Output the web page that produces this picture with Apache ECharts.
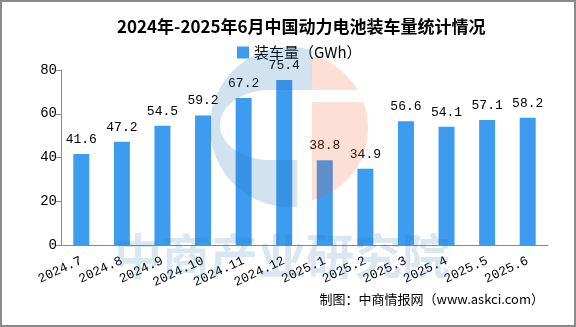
<!DOCTYPE html>
<html><head><meta charset="utf-8">
<script src="https://cdn.jsdelivr.net/npm/echarts@6/dist/echarts.min.js"></script>
<style>html,body{margin:0;padding:0;background:#fff}#c{width:576px;height:327px;position:absolute;left:0;top:0}#f{position:absolute;left:0;top:0;width:576px;height:327px;box-sizing:border-box;border:2px solid #8a8a8a;pointer-events:none}</style>
</head><body><div id="c"></div><div id="f"></div>
<script>
const categories = ['2024.7','2024.8','2024.9','2024.10','2024.11','2024.12','2025.1','2025.2','2025.3','2025.4','2025.5','2025.6'];
const values = [41.6,47.2,54.5,59.2,67.2,75.4,38.8,34.9,56.6,54.1,57.1,58.2];
const seriesName = '装车量（GWh）';
const titleText = '2024年-2025年6月中国动力电池装车量统计情况';
const sourceText = '制图：中商情报网（www.askci.com）';
const watermarkText = '中商产业研究院';

function arc(cx, cy, rx, ry, a0, a1, n) {
  const pts = [];
  for (let i = 0; i <= n; i++) {
    const a = (a0 + (a1 - a0) * i / n) * Math.PI / 180;
    pts.push([cx + rx * Math.cos(a), cy + ry * Math.sin(a)]);
  }
  return pts;
}
const blueC = [].concat(arc(290,127,80,80,-74,-275,80), [[297,160],[270,160]], arc(270,125,50,35,90,270,40), [[312,90]]);
const peachTop = [].concat(arc(293,128,75,75,-75.4,-30.4,30), [[312,90]]);
const peachBot = [].concat([[312,102]], arc(293,128,75,75,-20.3,75.4,40));

const chart = echarts.init(document.getElementById('c'));
const mono = '"Liberation Mono", "Noto Sans CJK SC", monospace';
const wmBlue = 'rgba(30,110,170,0.2)';
const wmText = 'rgba(30,110,170,0.17)';
const wmPeach = 'rgba(239,92,39,0.19)';
chart.setOption({
  animation: false,
  title: {
    text: titleText, left: 112, top: 13,
    textStyle: {fontFamily: '"Noto Sans CJK SC", sans-serif', fontSize: 17, fontWeight: 'bold', color: '#000'}
  },
  legend: {
    data: [seriesName], left: 232, top: 40, itemWidth: 12, itemHeight: 12, itemGap: 4,
    icon: 'rect',
    textStyle: {fontFamily: '"Noto Sans CJK SC", sans-serif', fontSize: 15, color: '#000'}
  },
  grid: {left: 61, right: 28, top: 70, bottom: 82},
  xAxis: {
    type: 'category', data: categories,
    axisLine: {lineStyle: {color: '#888', width: 1}},
    axisTick: {length: 5, lineStyle: {color: '#888'}},
    axisLabel: {rotate: 25, margin: 15, fontFamily: mono, fontSize: 13, color: '#000', interval: 0}
  },
  yAxis: {
    type: 'value', min: 0, max: 80, interval: 20,
    axisLine: {show: true, lineStyle: {color: '#888', width: 1}},
    axisTick: {show: true, length: 5, lineStyle: {color: '#888'}},
    splitLine: {show: false},
    axisLabel: {margin: 4, fontFamily: mono, fontSize: 14, color: '#000'}
  },
  series: [{
    name: seriesName, type: 'bar', data: values, barWidth: 16,
    itemStyle: {color: '#3d9cf0'},
    label: {show: true, position: 'top', distance: 8, fontFamily: mono, fontSize: 13, color: '#000'}
  }],
  graphic: [
    {type: 'polygon', z: 100, silent: true, shape: {points: blueC}, style: {fill: wmBlue}},
    {type: 'polygon', z: 100, silent: true, shape: {points: peachTop}, style: {fill: wmPeach}},
    {type: 'polygon', z: 100, silent: true, shape: {points: peachBot}, style: {fill: wmPeach}},
    {type: 'text', z: 100, silent: true, left: 114, top: 232,
     style: {text: watermarkText, fill: wmText, font: 'bold 48px "Noto Sans CJK SC", sans-serif'}},
    {type: 'text', right: 32, top: 293,
     style: {text: sourceText, fill: '#000', font: '13px "Noto Sans CJK SC", sans-serif'}}
  ]
});
</script></body></html>
